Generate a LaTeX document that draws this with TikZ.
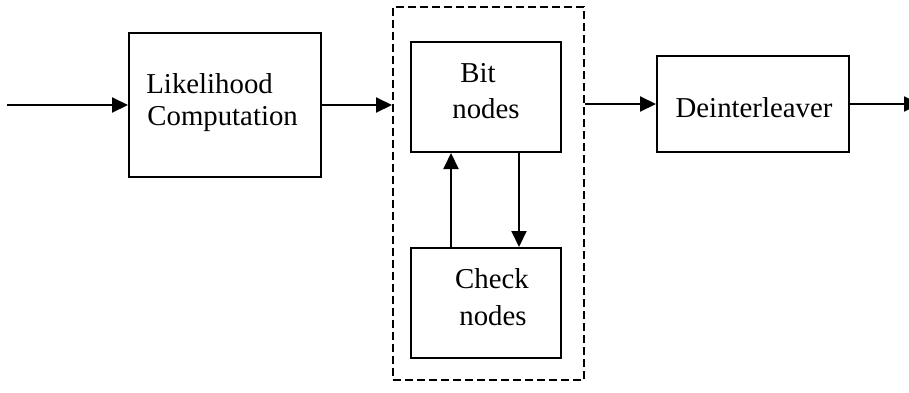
\documentclass[tikz,border=0pt]{standalone}
\usepackage{fontspec}
\setmainfont{Liberation Serif}
\usetikzlibrary{arrows.meta}
\begin{document}
\begin{tikzpicture}[x=0.5pt,y=-0.5pt,
  box/.style={draw, line width=1pt, rectangle, inner sep=0pt},
  dbox/.style={draw, line width=1pt, rectangle, inner sep=0pt, dash pattern=on 4pt off 2pt},
  arr/.style={line width=1pt, -{Triangle[length=8pt,width=7.5pt]}},
  txt/.style={inner sep=0pt, font=\fontsize{14.4pt}{16.5pt}\selectfont}]
\useasboundingbox (0,0) rectangle (909,392);
\clip (0,0) rectangle (909,392);
% boxes
\node[box, minimum width=96pt, minimum height=72pt] (lik) at (225,105) {};
\node[dbox, minimum width=95.5pt, minimum height=186.5pt] (dash) at (488.5,193.5) {};
\node[box, minimum width=75pt, minimum height=55pt] (bit) at (486,97) {};
\node[box, minimum width=75pt, minimum height=55pt] (chk) at (486,303) {};
\node[box, minimum width=96pt, minimum height=48pt] (deint) at (753,104) {};
% texts
\node[txt, anchor=base west] (t1) at (146,93) {Likelihood};
\node[txt, anchor=base west] (t2) at (147,125) {Computation};
\node[txt, anchor=base] (t3) at (478,82) {Bit};
\node[txt, anchor=base] (t4) at (486,118) {nodes};
\node[txt, anchor=base] (t5) at (492,288) {Check};
\node[txt, anchor=base] (t6) at (493,325) {nodes};
\node[txt, anchor=base] (t7) at (754,117) {Deinterleaver};
% connectors
\coordinate (in) at (7,105);
\coordinate (out) at (920,104);
\coordinate (xu) at (451,200);
\coordinate (xd) at (519,200);
\draw[arr] (in) -- (lik.west);
\draw[arr] (lik.east) -- (dash.west |- lik.east);
\draw[arr] (dash.east |- deint.west) -- (deint.west);
\draw[arr] (deint.east) -- (out);
\draw[arr] (chk.north -| xu) -- (bit.south -| xu);
\draw[arr] (bit.south -| xd) -- (chk.north -| xd);
\end{tikzpicture}
\end{document}
